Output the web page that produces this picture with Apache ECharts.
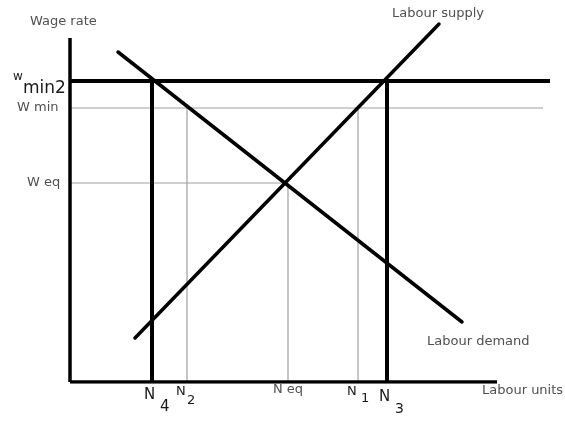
<!DOCTYPE html>
<html><head><meta charset="utf-8">
<script src="https://cdn.jsdelivr.net/npm/echarts@6/dist/echarts.min.js"></script>
<style>html,body{margin:0;padding:0;background:#fff}#c{width:565px;height:425px}</style>
</head><body><div id="c"></div>
<script>
// Data (model units)
const demandLine = [[9.6, 66], [78.4, 12]];
const supplyLine = [[13, 8.8], [73.8, 71.6]];
const wageLevels = { wmin2: 60.2, wmin: 54.8, weq: 39.8 };
const wageLineEnds = { wmin2: 96, wmin: 94.6, weq: 43.4 };
const labourLevels = { n4: 16.4, n2: 23.4, neq: 43.6, n1: 57.6, n3: 63.4 };
const axisExtent = { x: 85.4, y: 68.8 };

const chart = echarts.init(document.getElementById('c'), null, { renderer: 'canvas' });

function seg(name, pts, width, color, cap) {
  return {
    name, type: 'line', data: pts, symbol: 'none', silent: true, animation: false,
    z: width > 2 ? 3 : 2,
    lineStyle: { width, color, cap: cap || 'butt' }
  };
}
const thin = '#a0a0a0', thick = '#000';
const series = [
  seg('yaxis', [[0, 0], [0, axisExtent.y]], 3.5, thick),
  seg('xaxis', [[0, 0], [axisExtent.x, 0]], 3.5, thick),
  seg('wmin', [[0, wageLevels.wmin], [wageLineEnds.wmin, wageLevels.wmin]], 1.2, thin),
  seg('weq', [[0, wageLevels.weq], [wageLineEnds.weq, wageLevels.weq]], 1.2, thin),
  seg('n2', [[labourLevels.n2, 0], [labourLevels.n2, wageLevels.wmin]], 1.2, thin),
  seg('neq', [[labourLevels.neq, 0], [labourLevels.neq, wageLevels.weq]], 1.2, thin),
  seg('n1', [[labourLevels.n1, 0], [labourLevels.n1, wageLevels.wmin]], 1.2, thin),
  seg('wmin2', [[0, wageLevels.wmin2], [wageLineEnds.wmin2, wageLevels.wmin2]], 4, thick),
  seg('n4', [[labourLevels.n4, 0], [labourLevels.n4, wageLevels.wmin2]], 4, thick),
  seg('n3', [[labourLevels.n3, 0], [labourLevels.n3, wageLevels.wmin2]], 4, thick),
  seg('demand', demandLine, 3.5, thick, 'round'),
  seg('supply', supplyLine, 3.5, thick, 'round')
];

const gray = '#505050', dark = '#1a1a1a';
const sf = '"DejaVu Sans", sans-serif';
function t(text, x, y, size, color, align) {
  return { type: 'text', x, y, silent: true, style: { text, fontSize: size, fontFamily: sf, fill: color, textAlign: align || 'left', textVerticalAlign: 'middle' } };
}

chart.setOption({
  animation: false,
  grid: { left: 70, right: 15, top: 20, bottom: 43 },
  xAxis: { type: 'value', min: 0, max: 96, show: false },
  yAxis: { type: 'value', min: 0, max: 72.4, show: false },
  series,
  graphic: [
    t('Wage rate', 30, 22, 13, gray),
    t('w', 13, 77, 12, dark),
    t('min2', 23, 89, 17, dark),
    t('W min', 17, 108, 13, gray),
    t('W eq', 27, 183, 13, gray),
    t('N', 144, 395, 15, dark),
    t('4', 160, 407, 15, dark),
    t('N', 176, 392, 13, dark),
    t('2', 187, 401, 13, dark),
    t('N eq', 273, 390, 13, gray),
    t('N', 347, 392, 13, dark),
    t('1', 361, 399, 13, dark),
    t('N', 379, 397, 15, dark),
    t('3', 395, 409, 14, dark),
    t('Labour units', 482, 391, 13, gray),
    t('Labour supply', 392, 14, 13, gray),
    t('Labour demand', 427, 342, 13, gray)
  ]
});
</script></body></html>
